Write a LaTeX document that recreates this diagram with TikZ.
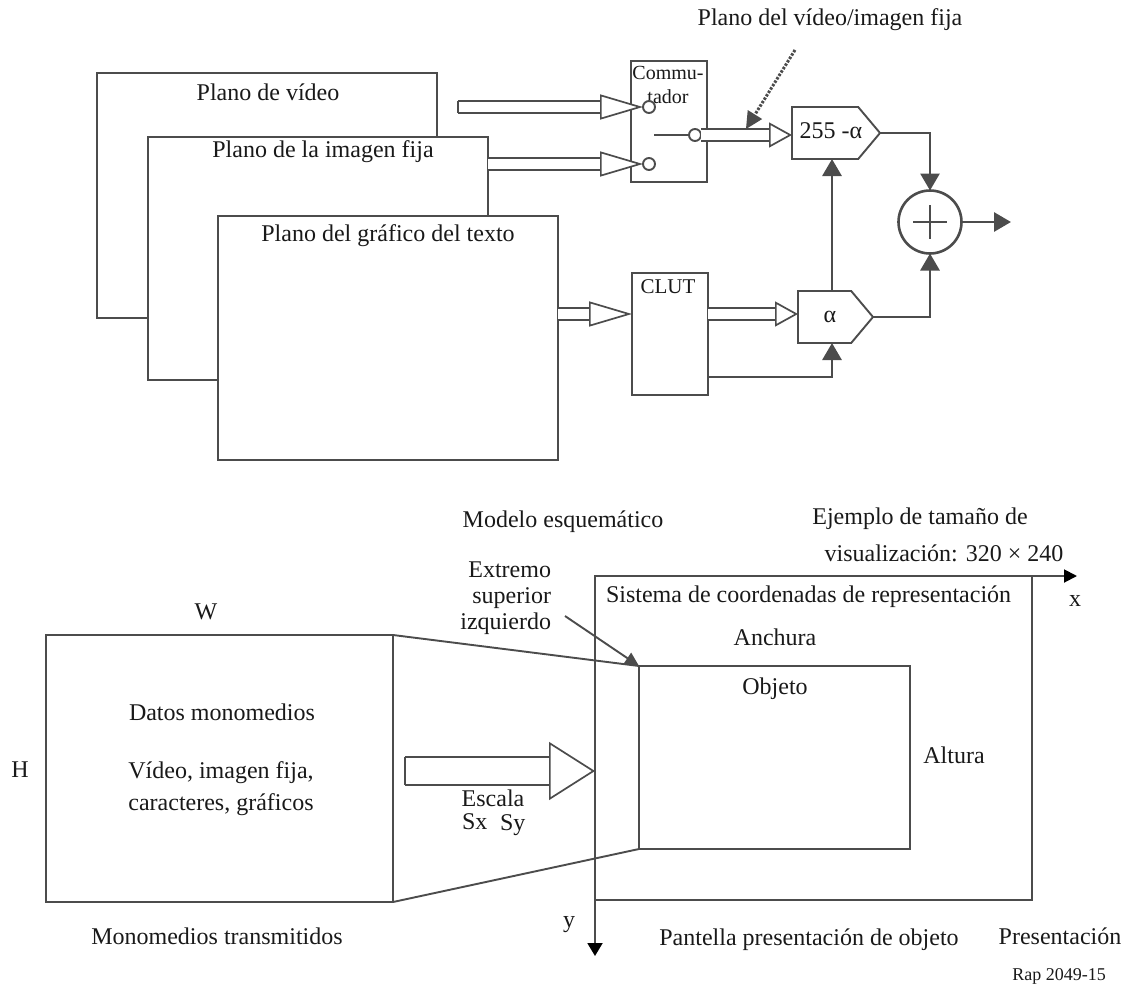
\documentclass[tikz,border=0pt]{standalone}
\usepackage{fontspec}
\setmainfont{Liberation Serif}
\usetikzlibrary{arrows.meta,shapes.symbols,calc}
\definecolor{ln}{gray}{0.3}
\definecolor{tx}{gray}{0.1}
\tikzset{
  x=1bp,y=-1bp,
  every node/.style={text=tx,font=\fontsize{24bp}{29bp}\selectfont,inner sep=0pt,outer sep=0pt},
  lbl/.style={align=center},
  boxn/.style={draw=ln,line width=1.9bp,fill=white,rectangle,anchor=north west,inner sep=0pt},
  gate/.style={draw=ln,line width=1.9bp,fill=white,signal,signal to=east,signal pointer angle=100,inner sep=0pt,anchor=west},
  line/.style={draw=ln,line width=2.9bp},
  thin line/.style={draw=ln,line width=1.9bp},
  solid arrow/.style={line,-{Triangle[length=17bp,width=19bp,color=ln]}},
  small tip/.style={thin line,-{Triangle[length=14bp,width=13bp,color=ln]}},
  hollow/.style={draw=ln,line width=1.7bp,double=white,double distance=#1},
  hollow/.default=10bp,
  longtip/.style={-{Triangle[length=43bp,width=25bp,open,line width=1.7bp,color=ln,fill=white]}},
  shorttip/.style={-{Triangle[length=23bp,width=25bp,open,line width=1.7bp,color=ln,fill=white]}},
  sw/.style={draw=ln,line width=1.9bp,fill=white,circle,minimum size=12bp,inner sep=0pt},
}
\begin{document}
\begin{tikzpicture}
\useasboundingbox (0,0) rectangle (1127,985);
% Planes
\node[boxn,minimum width=340bp,minimum height=245bp] (p1) at (97,73) {};
\node[boxn,minimum width=340bp,minimum height=243bp] (p2) at (148,137) {};
\node[boxn,minimum width=340bp,minimum height=244bp] (p3) at (218,216) {};
\node[lbl] (t1) at (268,92) {Plano de vídeo};
\node[lbl] (t2) at (323,152) {Plano de la imagen fija};
\node[lbl] (t3) at (388,236) {Plano del gráfico del texto};
% Switch
\node[boxn,minimum width=76bp,minimum height=121bp] (sw) at (631,61) {};
\node[lbl,font=\fontsize{20bp}{24bp}\selectfont] (swt) at (668,85) {Commu-\\tador};
\node[sw] (c1) at (649,107) {};
\node[sw] (c2) at (649,164) {};
\node[sw] (c3) at (695,135) {};
\coordinate (a1s) at (458,107);
\coordinate (wiper) at (654,135);
\draw[line] (wiper) -- (c3);
% CLUT
\node[boxn,minimum width=76bp,minimum height=122bp] (clut) at (632,273) {};
\node[lbl,font=\fontsize{21bp}{25bp}\selectfont] (clutt) at (668,287) {CLUT};
% gates
\node[gate,minimum width=88bp,minimum height=52bp] (g1) at (792,133) {};
\node[lbl] (g1t) at (831,131) {255 -α};
\node[gate,minimum width=75bp,minimum height=52bp] (g2) at (798,317) {};
\node[lbl] (g2t) at (830,317) {α};
% Sum
\node[circle,draw=ln,line width=2.6bp,fill=white,minimum size=63bp] (sum) at (930,222) {};
\draw[thin line] ($(sum.center)+(-17,0)$) -- ($(sum.center)+(17,0)$);
\draw[thin line] ($(sum.center)+(0,-17)$) -- ($(sum.center)+(0,17)$);
\coordinate (out) at (1011,222);
% Hollow arrows
\draw[hollow,longtip] (a1s) -- (c1.west);
\draw[hollow,longtip] (p2.east |- c2) -- (c2.west);
\draw[hollow,shorttip] (c3.east) -- (g1.west |- c3);
\draw[hollow,longtip] (p3.east |- 0,314) -- (clut.west |- 0,314);
\draw[hollow,shorttip] (clut.east |- 0,314) -- (g2.west |- 0,314);
% close tail of the first arrow
\draw[thin line] ($(a1s)+(0,-6)$) -- ($(a1s)+(0,6)$);
% Solid connectors
\draw[solid arrow] (g1.east) -| (sum.north);
\draw[solid arrow] (g2.east) -| (sum.south);
\draw[solid arrow] (sum.east) -- (out);
\draw[solid arrow] (g2.north -| 832,0) -- (g1.south -| 832,0);
\draw[solid arrow] (clut.east |- 0,377) -| (g2.south -| 832,0);
% Dotted
\node[lbl] (ptop) at (830,20) {Plano del vídeo/imagen fija};
\coordinate (dots) at (795,50);
\coordinate (dotp) at (746,129);
\draw[draw=ln,line width=3bp,dash pattern=on 2.5bp off 1.5bp,-{Triangle[length=17bp,width=17bp,color=ln,line width=0pt]}] (dots) -- (dotp);
% Lower part
\node[lbl] (schem2) at (563,522) {Modelo esquemático};
\node[lbl] (ej) at (920,519) {Ejemplo de tamaño de};
\node[lbl] (ej2) at (944,553) {visualización: 320 × 240};
\node[boxn,minimum width=347bp,minimum height=267bp] (mono) at (46,635) {};
\node[boxn,fill=none,minimum width=437bp,minimum height=324bp] (pres) at (595,576) {};
\node[boxn,fill=none,minimum width=271bp,minimum height=183bp] (obj) at (639,666) {};
\draw[thin line] (mono.north east) -- (obj.north west);
\draw[thin line] (mono.south east) -- (obj.south west);
\coordinate (xend) at (1077,576);
\coordinate (yend) at (595,956);
\draw[thin line,-{Triangle[length=13bp,width=13bp,color=black]}] (pres.north west) -- (xend);
\draw[thin line,-{Triangle[length=13bp,width=15bp,color=black]}] (pres.north west) -- (yend);
\coordinate (hs) at (405,771);
\draw[hollow=26bp,-{Triangle[length=46bp,width=58bp,open,line width=1.7bp,color=ln,fill=white]}] (hs) -- (pres.west |- hs);
\draw[thin line] ($(hs)+(0,-14)$) -- ($(hs)+(0,14)$);
\coordinate (lead) at (565,616);
\draw[small tip] (lead) -- (obj.north west);
\node[lbl] (w) at (206,612) {W};
\node[lbl] (h) at (20,770) {H};
\node[lbl] (x) at (1075,601) {x};
\node[lbl] (y) at (569,925) {y};
\node[lbl,align=right,anchor=north east,font=\fontsize{24bp}{26bp}\selectfont] (ext) at (551,562) {Extremo\\superior\\izquierdo};
\node[lbl,anchor=west] (sis) at (606,597) {Sistema de coordenadas de representación};
\node[lbl] (anch) at (775,637) {Anchura};
\node[lbl] (obt) at (775,689) {Objeto};
\node[lbl] (alt) at (954,755) {Altura};
\node[lbl] (dat) at (222,712) {Datos monomedios};
\node[lbl] (vid) at (221,773) {Vídeo, imagen fija,};
\node[lbl] (car) at (221,805) {caracteres, gráficos};
\node[lbl] (esc) at (493,798) {Escala};
\node[lbl,anchor=west] (sx) at (462,822) {Sx};
\node[lbl,anchor=west] (sy) at (500,825) {Sy};
\node[lbl] (mt) at (217,936) {Monomedios transmitidos};
\node[lbl] (pa) at (809,940) {Pantella presentación de objeto};
\node[lbl] (pr) at (1060,936) {Presentación};
\node[lbl,font=\fontsize{18bp}{20bp}\selectfont] (rap) at (1059,976) {Rap 2049-15};
\end{tikzpicture}
\end{document}
